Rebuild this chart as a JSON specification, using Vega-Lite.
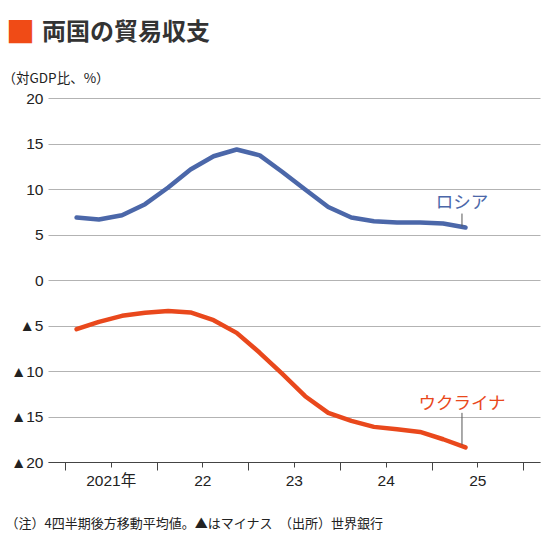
{
  "$schema": "https://vega.github.io/schema/vega-lite/v6.json",
  "autosize": {"type": "none"},
  "padding": {"left": 48, "top": 98, "right": 10, "bottom": 78},
  "width": 492,
  "height": 364,
  "background": "white",
  "title": {
    "text": "■",
    "subtitle": "\u2800\u2800両国の貿易収支",
    "anchor": "start",
    "frame": "group",
    "dx": -42,
    "offset": 22,
    "color": "#f04b16",
    "fontSize": 29,
    "fontWeight": "normal",
    "font": "Noto Sans CJK JP",
    "subtitleFont": "Noto Sans CJK JP",
    "subtitleFontSize": 24,
    "subtitleFontWeight": "bold",
    "subtitleColor": "#333333",
    "subtitlePadding": -28
  },
  "config": {
    "view": {"stroke": null},
    "axis": {
      "labelFont": "Liberation Sans, Noto Sans CJK JP",
      "titleFont": "Noto Sans CJK JP",
      "labelColor": "#222222",
      "titleColor": "#222222"
    }
  },
  "datasets": {
    "series": [
      {"d": "2021-02-15", "c": "ロシア", "v": 6.87},
      {"d": "2021-05-15", "c": "ロシア", "v": 6.65},
      {"d": "2021-08-15", "c": "ロシア", "v": 7.12},
      {"d": "2021-11-15", "c": "ロシア", "v": 8.33},
      {"d": "2022-02-15", "c": "ロシア", "v": 10.16},
      {"d": "2022-05-15", "c": "ロシア", "v": 12.14},
      {"d": "2022-08-15", "c": "ロシア", "v": 13.6},
      {"d": "2022-11-15", "c": "ロシア", "v": 14.34},
      {"d": "2023-02-15", "c": "ロシア", "v": 13.7},
      {"d": "2023-05-15", "c": "ロシア", "v": 11.9},
      {"d": "2023-08-15", "c": "ロシア", "v": 9.95},
      {"d": "2023-11-15", "c": "ロシア", "v": 8.03},
      {"d": "2024-02-15", "c": "ロシア", "v": 6.87},
      {"d": "2024-05-15", "c": "ロシア", "v": 6.46},
      {"d": "2024-08-15", "c": "ロシア", "v": 6.32},
      {"d": "2024-11-15", "c": "ロシア", "v": 6.32},
      {"d": "2025-02-15", "c": "ロシア", "v": 6.2},
      {"d": "2025-05-15", "c": "ロシア", "v": 5.77},
      {"d": "2021-02-15", "c": "ウクライナ", "v": -5.41},
      {"d": "2021-05-15", "c": "ウクライナ", "v": -4.6},
      {"d": "2021-08-15", "c": "ウクライナ", "v": -3.94},
      {"d": "2021-11-15", "c": "ウクライナ", "v": -3.6},
      {"d": "2022-02-15", "c": "ウクライナ", "v": -3.4},
      {"d": "2022-05-15", "c": "ウクライナ", "v": -3.57},
      {"d": "2022-08-15", "c": "ウクライナ", "v": -4.42},
      {"d": "2022-11-15", "c": "ウクライナ", "v": -5.81},
      {"d": "2023-02-15", "c": "ウクライナ", "v": -8.0},
      {"d": "2023-05-15", "c": "ウクライナ", "v": -10.3},
      {"d": "2023-08-15", "c": "ウクライナ", "v": -12.77},
      {"d": "2023-11-15", "c": "ウクライナ", "v": -14.6},
      {"d": "2024-02-15", "c": "ウクライナ", "v": -15.48},
      {"d": "2024-05-15", "c": "ウクライナ", "v": -16.14},
      {"d": "2024-08-15", "c": "ウクライナ", "v": -16.4},
      {"d": "2024-11-15", "c": "ウクライナ", "v": -16.7},
      {"d": "2025-02-15", "c": "ウクライナ", "v": -17.5},
      {"d": "2025-05-15", "c": "ウクライナ", "v": -18.4}
    ],
    "labels": [
      {"d": "2025-05-01", "c": "ロシア", "v": 8.5, "y1": 7.3, "y2": 5.9},
      {"d": "2025-05-01", "c": "ウクライナ", "v": -13.6, "y1": -14.6, "y2": -18.1}
    ]
  },
  "layer": [
    {
      "data": {"name": "series"},
      "mark": {"type": "line", "strokeWidth": 4.5, "strokeCap": "round", "strokeJoin": "round"},
      "encoding": {
        "x": {
          "field": "d", "type": "temporal",
          "scale": {"type": "utc", "domain": ["2020-10-24", "2026-03-08"]},
          "axis": {
            "title": "（注）4四半期後方移動平均値。▲はマイナス　（出所）世界銀行",
            "titleFontSize": 13,
            "titleFontWeight": "normal",
            "titleAnchor": "start",
            "titleAlign": "left",
            "titleBaseline": "top",
            "titleX": -43,
            "titleY": 55,
            "grid": false,
            "domainColor": "#444444",
            "tickColor": "#444444",
            "tickSize": {"condition": {"test": "utcmonth(datum.value) == 0", "value": 8}, "value": 5},
            "values": [
              {"year": 2021, "month": 1, "date": 1, "utc": true},
              {"year": 2021, "month": 4, "date": 1, "utc": true},
              {"year": 2021, "month": 7, "date": 1, "utc": true},
              {"year": 2021, "month": 10, "date": 1, "utc": true},
              {"year": 2022, "month": 1, "date": 1, "utc": true},
              {"year": 2022, "month": 4, "date": 1, "utc": true},
              {"year": 2022, "month": 7, "date": 1, "utc": true},
              {"year": 2022, "month": 10, "date": 1, "utc": true},
              {"year": 2023, "month": 1, "date": 1, "utc": true},
              {"year": 2023, "month": 4, "date": 1, "utc": true},
              {"year": 2023, "month": 7, "date": 1, "utc": true},
              {"year": 2023, "month": 10, "date": 1, "utc": true},
              {"year": 2024, "month": 1, "date": 1, "utc": true},
              {"year": 2024, "month": 4, "date": 1, "utc": true},
              {"year": 2024, "month": 7, "date": 1, "utc": true},
              {"year": 2024, "month": 10, "date": 1, "utc": true},
              {"year": 2025, "month": 1, "date": 1, "utc": true},
              {"year": 2025, "month": 4, "date": 1, "utc": true},
              {"year": 2025, "month": 7, "date": 1, "utc": true},
              {"year": 2025, "month": 10, "date": 1, "utc": true},
              {"year": 2026, "month": 1, "date": 1, "utc": true}
            ],
            "labelExpr": "utcmonth(datum.value) == 6 ? (utcyear(datum.value) == 2021 ? '2021年' : utcFormat(datum.value, '%y')) : ''",
            "labelFontSize": 15.5,
            "labelPadding": 6,
            "labelFlush": false,
            "labelOverlap": false,
            "labelBound": false
          }
        },
        "y": {
          "field": "v", "type": "quantitative",
          "scale": {"domain": [-20, 20], "nice": false},
          "axis": {
            "title": "（対GDP比、%）",
            "titleFontSize": 13.5,
            "titleFontWeight": "normal",
            "titleAngle": 0,
            "titleAlign": "left",
            "titleBaseline": "top",
            "titleAnchor": "start",
            "titleX": -46,
            "titleY": -27,
            "values": [-20, -15, -10, -5, 0, 5, 10, 15, 20],
            "labelExpr": "datum.value < 0 ? '▲' + abs(datum.value) : '' + datum.value",
            "labelFontSize": 15.5,
            "labelPadding": 5,
            "ticks": false,
            "domain": false,
            "gridColor": "#b3b3b3",
            "gridWidth": 1
          }
        },
        "color": {
          "field": "c", "type": "nominal",
          "scale": {"domain": ["ロシア", "ウクライナ"], "range": ["#4b67a9", "#e9481c"]},
          "legend": null
        }
      }
    },
    {
      "data": {"name": "labels"},
      "mark": {"type": "rule", "color": "#555555", "strokeWidth": 1},
      "encoding": {
        "x": {"field": "d", "type": "temporal"},
        "y": {"field": "y1", "type": "quantitative"},
        "y2": {"field": "y2"}
      }
    },
    {
      "data": {"name": "labels"},
      "mark": {"type": "text", "font": "Noto Sans CJK JP", "fontSize": 17.5, "align": "center", "baseline": "middle"},
      "encoding": {
        "x": {"field": "d", "type": "temporal"},
        "y": {"field": "v", "type": "quantitative"},
        "text": {"field": "c"},
        "color": {"field": "c", "type": "nominal", "legend": null}
      }
    }
  ]
}
